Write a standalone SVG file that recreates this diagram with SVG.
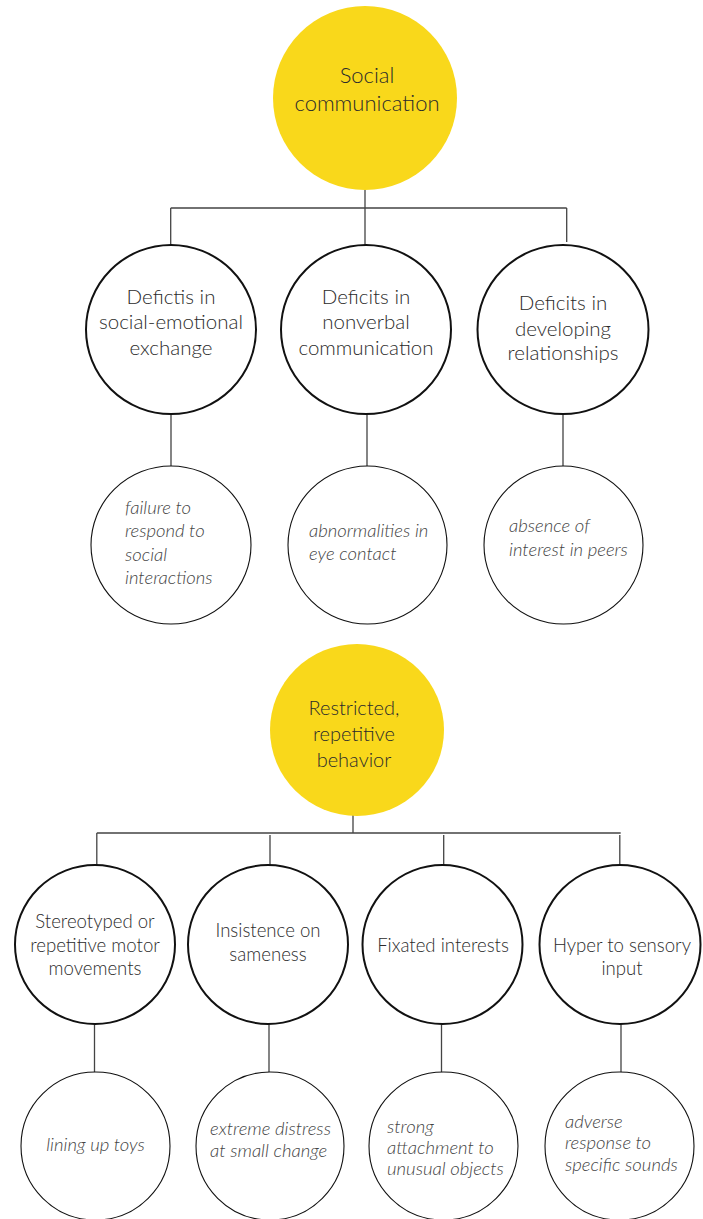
<svg xmlns="http://www.w3.org/2000/svg" width="703" height="1219" viewBox="0 0 703 1219">
<style>
.bg{fill:#ffffff}
.hub{fill:#F9D81B;stroke:none}
.main{fill:#ffffff;stroke:#111;stroke-width:2}
.det{fill:#ffffff;stroke:#111;stroke-width:1.1}
.con{stroke:#444;stroke-width:1.3;fill:none}
.t{font-family:Lato,"Open Sans","Liberation Sans",sans-serif;font-weight:300;fill:#2b2b2b}
.hubt{font-size:22px;text-anchor:middle}
.hub2t{font-size:20px;text-anchor:middle}
.mt{font-size:20.5px;text-anchor:middle}
.mt2{font-size:18.6px;text-anchor:middle}
.dt{font-size:18.5px;font-style:italic;fill:#444}
</style>
<rect class="bg" x="0" y="0" width="703" height="1219"/>
<g id="connectors">
  <path class="con" d="M365 190 V245 M170.7 208 H566.7 M170.7 208 V245 M566.7 208 V242"/>
  <path class="con" d="M171 414 V466 M367 414 V466 M563 414 V466"/>
  <path class="con" d="M353 815 V833 M96.8 833 H620.7 M96.8 833 V867 M270 835 V865 M443.7 835 V865 M619.8 835 V865"/>
  <path class="con" d="M94.5 1024 V1072 M269 1024 V1072 M441.5 1024 V1072 M621 1024 V1072"/>
</g>
<g id="social-communication">
  <ellipse class="hub" cx="365" cy="98" rx="92" ry="92"/>
  <text class="t hubt" x="367" y="82.5">Social</text>
  <text class="t hubt" x="367" y="110.5">communication</text>
</g>
<g id="social-emotional">
  <ellipse class="main" cx="171" cy="329.5" rx="85" ry="84.5"/>
  <text class="t mt" x="171" y="304">Defictis in</text>
  <text class="t mt" x="171" y="329">social-emotional</text>
  <text class="t mt" x="171" y="355">exchange</text>
</g>
<g id="nonverbal">
  <ellipse class="main" cx="366" cy="329.5" rx="85" ry="84.5"/>
  <text class="t mt" x="366" y="304">Deficits in</text>
  <text class="t mt" x="366" y="329">nonverbal</text>
  <text class="t mt" x="366" y="355">communication</text>
</g>
<g id="relationships">
  <ellipse class="main" cx="563" cy="329.5" rx="85.5" ry="84.5"/>
  <text class="t mt" x="563" y="309.5">Deficits in</text>
  <text class="t mt" x="563" y="335.5">developing</text>
  <text class="t mt" x="563" y="360">relationships</text>
</g>
<g id="failure-respond">
  <ellipse class="det" cx="171" cy="545" rx="80" ry="79"/>
  <text class="t dt" x="125" y="514">failure to</text>
  <text class="t dt" x="125" y="537">respond to</text>
  <text class="t dt" x="125" y="561">social</text>
  <text class="t dt" x="125" y="584">interactions</text>
</g>
<g id="eye-contact">
  <ellipse class="det" cx="367.5" cy="545" rx="79.5" ry="79"/>
  <text class="t dt" x="309" y="537">abnormalities in</text>
  <text class="t dt" x="309" y="560">eye contact</text>
</g>
<g id="peers">
  <ellipse class="det" cx="563.5" cy="545" rx="79.5" ry="79"/>
  <text class="t dt" x="509" y="532">absence of</text>
  <text class="t dt" x="509" y="556">interest in peers</text>
</g>
<g id="restricted-repetitive">
  <ellipse class="hub" cx="357" cy="730" rx="87" ry="86"/>
  <text class="t hub2t" x="354" y="715">Restricted,</text>
  <text class="t hub2t" x="354" y="741">repetitive</text>
  <text class="t hub2t" x="354" y="767">behavior</text>
</g>
<g id="stereotyped">
  <ellipse class="main" cx="95" cy="944.5" rx="80" ry="79.5"/>
  <text class="t mt2" x="95" y="927.5">Stereotyped or</text>
  <text class="t mt2" x="95" y="951.5">repetitive motor</text>
  <text class="t mt2" x="95" y="974.5">movements</text>
</g>
<g id="sameness">
  <ellipse class="main" cx="268" cy="944.5" rx="80" ry="79.5"/>
  <text class="t mt2" x="268" y="936.5">Insistence on</text>
  <text class="t mt2" x="268" y="960.5">sameness</text>
</g>
<g id="fixated">
  <ellipse class="main" cx="442.5" cy="944.5" rx="80" ry="79.5"/>
  <text class="t mt2" x="443" y="951.5">Fixated interests</text>
</g>
<g id="sensory">
  <ellipse class="main" cx="620" cy="944.5" rx="80.5" ry="79.5"/>
  <text class="t mt2" x="622" y="951.5">Hyper to sensory</text>
  <text class="t mt2" x="622" y="974.5">input</text>
</g>
<g id="lining-up">
  <ellipse class="det" cx="95.5" cy="1146" rx="74.5" ry="74"/>
  <text class="t dt" x="95.5" y="1151" text-anchor="middle">lining up toys</text>
</g>
<g id="distress">
  <ellipse class="det" cx="270" cy="1146" rx="74" ry="74"/>
  <text class="t dt" x="210" y="1135">extreme distress</text>
  <text class="t dt" x="210" y="1157">at small change</text>
</g>
<g id="attachment">
  <ellipse class="det" cx="443.5" cy="1146" rx="74.5" ry="74"/>
  <text class="t dt" x="387" y="1133">strong</text>
  <text class="t dt" x="387" y="1154">attachment to</text>
  <text class="t dt" x="387" y="1175">unusual objects</text>
</g>
<g id="sounds">
  <ellipse class="det" cx="619.5" cy="1146" rx="74.5" ry="74"/>
  <text class="t dt" x="565" y="1128">adverse</text>
  <text class="t dt" x="565" y="1149">response to</text>
  <text class="t dt" x="565" y="1171">specific sounds</text>
</g>
</svg>
